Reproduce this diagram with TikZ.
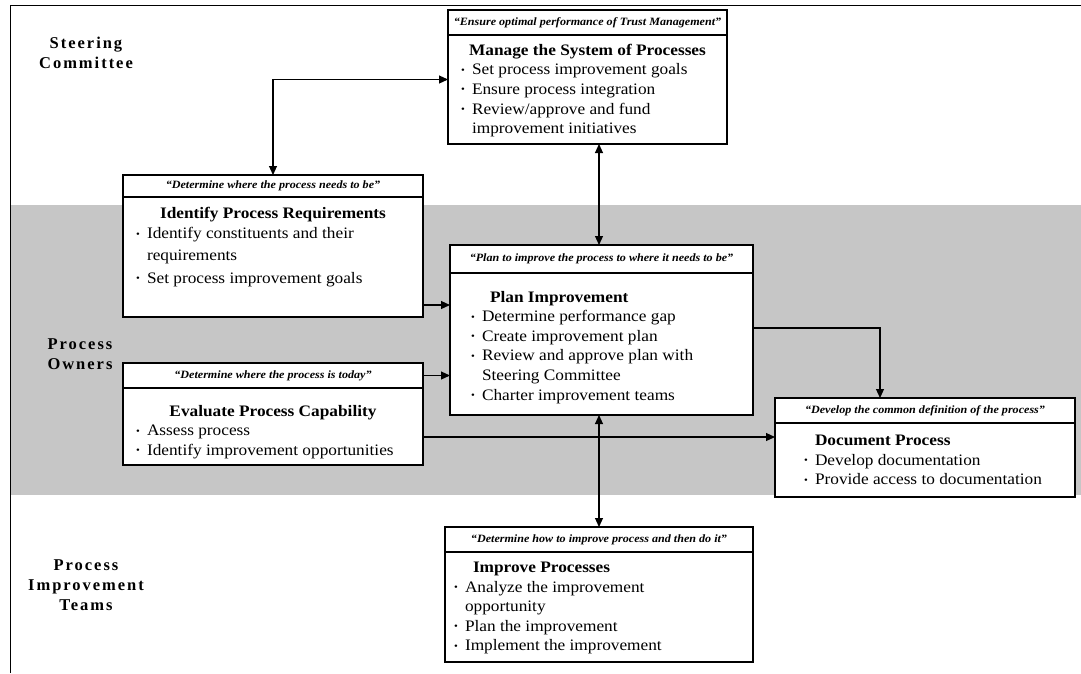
\documentclass[tikz,border=0pt]{standalone}
\usepackage{fontspec}
\setmainfont{Liberation Serif}
\newfontfamily\lanefont[LetterSpace=12]{Liberation Serif}
\newfontfamily\bodyfont[FakeStretch=1.08, Ligatures=TeX]{Liberation Serif}
\usetikzlibrary{arrows.meta,positioning}

\newcommand{\bitem}{\makebox[18pt][c]{\raisebox{1.5pt}{\fontsize{10}{10}\selectfont\textbullet}}}
\newcommand{\cont}{\hspace*{18pt}}
\newcommand{\ttl}[1]{{\bfseries\fontsize{16}{19}\selectfont #1}}
\newcommand{\bodytext}[3]{\parbox[c][#1][t]{#2}{\raggedright\bodyfont\fontsize{16}{19.6}\selectfont #3}}

\begin{document}
\begin{tikzpicture}[
    x=1pt, y=-1pt,
    hdr/.style={
        rectangle, draw, fill=white, line width=1.2pt, anchor=north west,
        inner sep=0pt, outer sep=0pt, minimum height=25pt,
        font=\bodyfont\fontsize{11.2}{12}\selectfont\bfseries\itshape
    },
    body/.style={
        rectangle, draw, fill=white, line width=1.2pt,
        inner xsep=6pt, inner ysep=4pt, outer sep=0pt
    },
    lane/.style={align=center, font=\lanefont\bfseries\fontsize{16.5}{20}\selectfont},
    flow/.style={-{Triangle[length=9pt, width=8pt]}, line width=1.1pt},
    dflow/.style={{Triangle[length=9pt, width=8pt]}-{Triangle[length=9pt, width=8pt]}, line width=1.1pt},
]
\useasboundingbox (0,0) rectangle (1081,673);

% Process owners band and frame
\fill[gray!45] (10,205) rectangle (1081,495);
\draw[line width=1pt] (10,673) -- (10,5) -- (1081,5);

% Lanes
\node[lane] (steer) at (86,53) {Steering\\Committee};
\node[lane] (owners) at (80,354) {Process\\Owners};
\node[lane] (teams) at (86,585) {Process\\Improvement\\Teams};

% Steering committee
\node[hdr, minimum width=279pt] (manageH) at (448,10) {``Ensure optimal performance of Trust Management''};
\node[body, below=0pt of manageH] (manage) {\bodytext{101pt}{267pt}{%
    \vspace*{5pt}\makebox[\linewidth][c]{\ttl{Manage the System of Processes}}\\
    \bitem Set process improvement goals\\
    \bitem Ensure process integration\\
    \bitem Review/approve and fund\\
    \cont improvement initiatives}};

% Process owners
\node[hdr, minimum width=300pt, minimum height=22pt] (identH) at (123,175) {``Determine where the process needs to be''};
\node[body, below=0pt of identH] (ident) {\bodytext{112pt}{288pt}{%
    \vspace*{6pt}\makebox[\linewidth][c]{\ttl{Identify Process Requirements}}\\[1pt]
    \bitem Identify constituents and their\\[2pt]
    \cont requirements\\[3pt]
    \bitem Set process improvement goals}};

\node[hdr, minimum width=300pt] (evalH) at (123,363) {``Determine where the process is today''};
\node[body, below=0pt of evalH] (eval) {\bodytext{69pt}{288pt}{%
    \vspace*{13pt}\makebox[\linewidth][c]{\ttl{Evaluate Process Capability}}\\
    \bitem Assess process\\
    \bitem Identify improvement opportunities}};

\node[hdr, minimum width=303pt, minimum height=28pt] (planH) at (450,245) {``Plan to improve the process to where it needs to be''};
\node[body, inner xsep=14pt, below=0pt of planH] (plan) {\bodytext{134pt}{275pt}{%
    \vspace*{14pt}\hspace*{26pt}\ttl{Plan Improvement}\\
    \bitem Determine performance gap\\
    \bitem Create improvement plan\\
    \bitem Review and approve plan with\\
    \cont Steering Committee\\
    \bitem Charter improvement teams}};

\node[hdr, minimum width=300pt] (docH) at (775,398) {``Develop the common definition of the process''};
\node[body, inner xsep=22pt, below=0pt of docH] (doc) {\bodytext{66pt}{256pt}{%
    \vspace*{8pt}\hspace*{18pt}\ttl{Document Process}\\
    \bitem Develop documentation\\
    \bitem Provide access to documentation}};

% Process improvement teams
\node[hdr, minimum width=308pt] (imprH) at (445,527) {``Determine how to improve process and then do it''};
\node[body, inner xsep=2pt, below=0pt of imprH] (impr) {\bodytext{102pt}{304pt}{%
    \vspace*{6pt}\hspace*{26pt}\ttl{Improve Processes}\\
    \bitem Analyze the improvement\\
    \cont opportunity\\
    \bitem Plan the improvement\\
    \bitem Implement the improvement}};

% Arrows
\draw[dflow] (identH.north) |- ([yshift=10pt]manage.west);
\draw[dflow] (manage.south -| imprH.north) -- (planH.north -| imprH.north);
\draw[dflow] (plan.south -| imprH.north) -- (imprH.north);
\draw[flow] ([yshift=12pt]ident.south east) -- ([yshift=12pt]ident.south east -| plan.west);
\draw[flow] (evalH.east) -- (evalH.east -| plan.west);
\draw[flow] ([yshift=-10.5pt]eval.east) -- ([yshift=-10.5pt]eval.east -| doc.west);
\draw[flow] ([yshift=16pt]plan.east) -| ([xshift=-45pt]docH.north);
\end{tikzpicture}
\end{document}
